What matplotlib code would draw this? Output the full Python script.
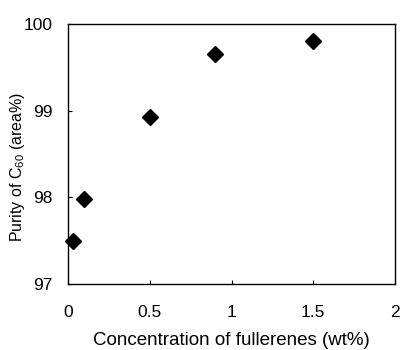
import matplotlib
matplotlib.use("Agg")
import matplotlib.pyplot as plt

plt.rcParams['font.family'] = ['Liberation Sans', 'DejaVu Sans']
plt.rcParams['mathtext.fontset'] = 'custom'
plt.rcParams['mathtext.rm'] = 'Liberation Sans'
plt.rcParams['mathtext.it'] = 'Liberation Sans'

concentration = [0.03, 0.1, 0.5, 0.9, 1.5]
purity = [97.5, 97.98, 98.93, 99.65, 99.80]
x_ticks = [0, 0.5, 1, 1.5, 2]
x_tick_labels = ['0', '0.5', '1', '1.5', '2']
y_ticks = [97, 98, 99, 100]
y_tick_labels = ['97', '98', '99', '100']

fig = plt.figure(figsize=(4.03, 3.5), dpi=100)
ax = fig.add_axes([68/403, 1 - 284/350, (395-68)/403, (284-24)/350])
ax.plot(concentration, purity, linestyle='none', marker='D', markersize=8,
        color='black', clip_on=False)
ax.set_xlim(0, 2)
ax.set_ylim(97, 100)
ax.set_xticks(x_ticks)
ax.set_xticklabels(x_tick_labels)
ax.set_yticks(y_ticks)
ax.set_yticklabels(y_tick_labels)
ax.tick_params(direction='in', length=3, width=0.8, labelsize=12.5)
ax.tick_params(axis='x', pad=15)
ax.tick_params(axis='y', pad=11)
for s in ax.spines.values():
    s.set_linewidth(1.0)
ax.set_xlabel('Concentration of fullerenes (wt%)', fontsize=13.5, labelpad=9)
ax.set_ylabel('Purity of C$_{60}$ (area%)', fontsize=11.5)
ax.yaxis.set_label_coords(-0.125, 0.45)
fig.savefig('out.png', dpi=100)
